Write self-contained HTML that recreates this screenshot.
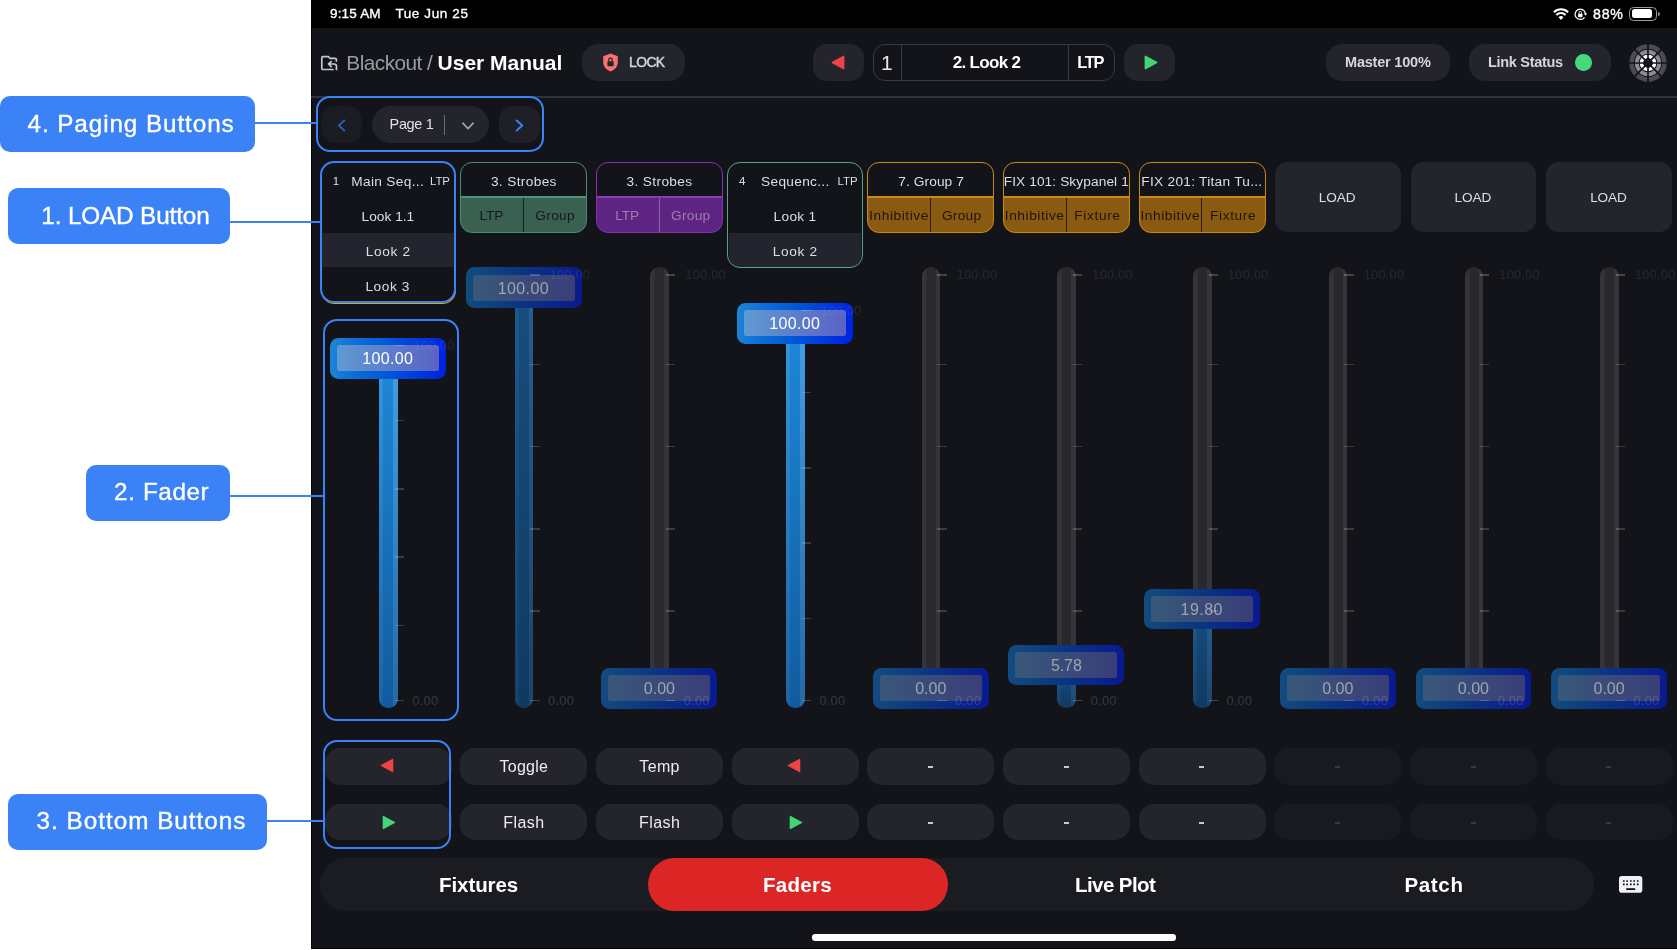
<!DOCTYPE html>
<html lang="en">
<head>
<meta charset="utf-8">
<title>Blackout - Faders (User Manual)</title>
<style>
html,body{margin:0;padding:0;background:#fff}
body{width:1677px;height:950px;position:relative;overflow:hidden;font-family:"Liberation Sans", sans-serif;-webkit-font-smoothing:antialiased}
body div,body span,body svg{position:absolute;display:block}
span{white-space:pre}
#stage{left:0;top:0;width:1677px;height:950px;will-change:transform}
</style>
</head>
<body>
<div id="stage">
<div style="left:311.0px;top:0.0px;width:1366.0px;height:948.5px;background:#13141a;border-left:1px solid #050507;border-bottom:1px solid #050507;box-sizing:border-box"></div>
<div style="left:311.0px;top:0.0px;width:1366.0px;height:27.5px;background:#000"></div>
<span style="left:330.00px;top:5.32px;font-size:13.5px;line-height:18px;color:#fff;letter-spacing:0.18px;-webkit-text-stroke:0.35px currentColor;">9:15 AM</span>
<span style="left:395.40px;top:5.32px;font-size:13.5px;line-height:18px;color:#fff;letter-spacing:0.61px;-webkit-text-stroke:0.35px currentColor;">Tue Jun 25</span>
<span style="left:1593.00px;top:5.28px;font-size:14.2px;line-height:18px;color:#fff;letter-spacing:0.76px;-webkit-text-stroke:0.35px currentColor;">88%</span>
<svg style="left:1552.6px;top:7.7px" width="16" height="12.4" viewBox="0 0 16 12.4"><path d="M8 12 L5.5 9.2 A3.5 3.5 0 0 1 10.5 9.2 Z" fill="#fff"/><path d="M3.4 6.9 A6.5 6.5 0 0 1 12.6 6.9" fill="none" stroke="#fff" stroke-width="2.1"/><path d="M0.9 4.2 A10.1 10.1 0 0 1 15.1 4.2" fill="none" stroke="#fff" stroke-width="2.1"/></svg>
<svg style="left:1574px;top:7.9px" width="14" height="13" viewBox="0 0 14 13"><path d="M10.56 9.28 A5.2 5.2 0 1 1 11.39 5.22" fill="none" stroke="#fff" stroke-width="1.25"/><path d="M9.7 5.3 H13.2 L11.45 7.7 Z" fill="#fff"/><rect x="4.1" y="5.7" width="4.4" height="3.6" rx="0.7" fill="#fff"/><path d="M5 5.9 V4.7 A1.3 1.3 0 0 1 7.6 4.7 V5.9" fill="none" stroke="#fff" stroke-width="0.9"/></svg>
<div style="left:1629.4px;top:7.2px;width:27.6px;height:13.5px;border:1.3px solid #9c9ca1;border-radius:4.5px;box-sizing:border-box"></div>
<div style="left:1631.6px;top:9.3px;width:20.7px;height:9.2px;background:#fff;border-radius:2.5px"></div>
<div style="left:1658.0px;top:11.6px;width:1.8px;height:4.6px;background:#8e8e93;border-radius:0 2px 2px 0"></div>
<div style="left:311.0px;top:96.2px;width:1366.0px;height:1.5px;background:#30323c"></div>
<svg style="left:320px;top:54.5px" width="19" height="17" viewBox="0 0 19 17"><path d="M16.4 6.7 V4.4 A1.1 1.1 0 0 0 15.3 3.3 H9.9 L8.4 1.6 H2.9 A1.1 1.1 0 0 0 1.8 2.7 V13.4 A1.1 1.1 0 0 0 2.9 14.5 H13.6" fill="none" stroke="#c6c6d2" stroke-width="1.7" stroke-linejoin="round" stroke-linecap="butt"/><path d="M11.7 6.2 L8.5 9 L11.7 12.2 M8.8 9 H14.2 A2.3 2.3 0 0 1 16.45 11.3 V15.2" fill="none" stroke="#c6c6d2" stroke-width="1.7" stroke-linejoin="round" stroke-linecap="butt"/></svg>
<span style="left:346.30px;top:49.39px;font-size:20.8px;line-height:27px;color:#9b9ca1;letter-spacing:-0.53px;">Blackout /</span>
<span style="left:437.60px;top:49.32px;font-size:21px;line-height:27px;color:#fff;font-weight:700;letter-spacing:-0.01px;">User Manual</span>
<div style="left:581.8px;top:44.2px;width:103.7px;height:36.8px;background:#23242c;border-radius:16px"></div>
<svg style="left:602px;top:53.4px" width="17" height="19" viewBox="0 0 17 19"><path d="M8.5 0.6 L15.8 3.2 V9.2 C15.8 13.6 12.6 16.8 8.5 18.4 C4.4 16.8 1.2 13.6 1.2 9.2 V3.2 Z" fill="#f87171"/><rect x="5.4" y="8.2" width="6.2" height="5" rx="1" fill="#23242c"/><path d="M6.7 8.4 V6.9 A1.8 1.8 0 0 1 10.3 6.9 V8.4" fill="none" stroke="#23242c" stroke-width="1.2"/></svg>
<span style="left:629.10px;top:53.48px;font-size:13.9px;line-height:18px;color:#d4d4e0;letter-spacing:-0.62px;-webkit-text-stroke:0.45px currentColor;">LOCK</span>
<div style="left:813.1px;top:44.2px;width:50.6px;height:36.8px;background:#23242c;border-radius:14px"></div>
<svg style="left:830.5px;top:55px" width="14" height="15" viewBox="0 0 14 15"><path d="M12.6 1.4 V13.6 L1.4 7.5 Z" fill="#ef4444" stroke="#ef4444" stroke-width="1.6" stroke-linejoin="round"/></svg>
<div style="left:873.2px;top:44.2px;width:241.6px;height:36.4px;border:1px solid #3a3b42;border-radius:12px;box-sizing:border-box"></div>
<div style="left:901.0px;top:44.7px;width:1.0px;height:35.4px;background:#3a3b42"></div>
<div style="left:1067.8px;top:44.7px;width:1.0px;height:35.4px;background:#3a3b42"></div>
<span style="left:881.10px;top:48.82px;font-size:21px;line-height:27px;color:#e8e8ec;">1</span>
<span style="left:952.70px;top:51.61px;font-size:17px;line-height:22px;color:#fff;font-weight:700;letter-spacing:-0.67px;">2. Look 2</span>
<span style="left:1077.30px;top:52.32px;font-size:16.4px;line-height:21px;color:#fff;font-weight:700;letter-spacing:-1.25px;">LTP</span>
<div style="left:1124.4px;top:44.2px;width:50.6px;height:36.8px;background:#23242c;border-radius:14px"></div>
<svg style="left:1144px;top:55px" width="14" height="15" viewBox="0 0 14 15"><path d="M1.4 1.4 V13.6 L12.6 7.5 Z" fill="#42d674" stroke="#42d674" stroke-width="1.6" stroke-linejoin="round"/></svg>
<div style="left:1326.3px;top:44.2px;width:123.9px;height:36.8px;background:#23242c;border-radius:16px"></div>
<span style="left:1345.00px;top:52.88px;font-size:14.5px;line-height:19px;color:#d6d6da;font-weight:700;letter-spacing:-0.20px;">Master 100%</span>
<div style="left:1469.3px;top:44.2px;width:142.1px;height:36.8px;background:#23242c;border-radius:16px"></div>
<span style="left:1488.00px;top:52.88px;font-size:14.5px;line-height:19px;color:#d6d6da;font-weight:700;letter-spacing:-0.31px;">Link Status</span>
<div style="left:1575.0px;top:54.2px;width:16.6px;height:16.6px;background:#46d97c;border-radius:50%"></div>
<svg style="left:1629.4px;top:43.5px" width="38" height="38" viewBox="-19 -19 38 38"><circle r="16.45" fill="none" stroke="#4b4b54" stroke-width="4.5"/><circle r="11.25" fill="none" stroke="#8b8b92" stroke-width="3.9"/><circle r="6.5" fill="none" stroke="#ffffff" stroke-width="3.6"/><line x1="-19.50" y1="-0.00" x2="19.50" y2="0.00" stroke="#13141a" stroke-width="1.7"/><line x1="-13.79" y1="-13.79" x2="13.79" y2="13.79" stroke="#13141a" stroke-width="1.7"/><line x1="-0.00" y1="-19.50" x2="0.00" y2="19.50" stroke="#13141a" stroke-width="1.7"/><line x1="13.79" y1="-13.79" x2="-13.79" y2="13.79" stroke="#13141a" stroke-width="1.7"/><circle r="4.7" fill="#13141a"/></svg>
<div style="left:320.5px;top:106.3px;width:41.5px;height:37.0px;background:#1b1c22;border-radius:14px"></div>
<svg style="left:335.5px;top:118.5px" width="11" height="13" viewBox="0 0 11 13"><path d="M8.3 1.5 L2.8 6.5 L8.3 11.5" fill="none" stroke="#2a5cb4" stroke-width="1.9" stroke-linecap="round" stroke-linejoin="round"/></svg>
<div style="left:371.7px;top:106.3px;width:117.0px;height:37.0px;background:#23242c;border-radius:18.5px"></div>
<span style="left:389.60px;top:115.38px;font-size:14.5px;line-height:19px;color:#e2e2e6;letter-spacing:-0.36px;">Page 1</span>
<div style="left:443.7px;top:114.7px;width:1.1px;height:20.6px;background:#6c6d74"></div>
<svg style="left:461px;top:120.5px" width="14" height="10" viewBox="0 0 14 10"><path d="M1.8 2.2 L7 7.6 L12.2 2.2" fill="none" stroke="#a2a3a8" stroke-width="1.7" stroke-linecap="round" stroke-linejoin="round"/></svg>
<div style="left:498.8px;top:106.3px;width:41.2px;height:37.0px;background:#1f2026;border-radius:14px"></div>
<svg style="left:514px;top:118.5px" width="11" height="13" viewBox="0 0 11 13"><path d="M2.7 1.5 L8.2 6.5 L2.7 11.5" fill="none" stroke="#3b82f6" stroke-width="2" stroke-linecap="round" stroke-linejoin="round"/></svg>
<div style="left:321.7px;top:232.8px;width:132.6px;height:34.3px;background:#23242d"></div>
<span style="left:332.65px;top:173.82px;font-size:11.5px;line-height:15px;color:#dedee6;">1</span>
<span style="left:351.20px;top:172.75px;font-size:13.7px;line-height:18px;color:#dedee6;letter-spacing:0.34px;">Main Seq...</span>
<span style="left:430.00px;top:174.15px;font-size:11.4px;line-height:15px;color:#dedee6;letter-spacing:-0.07px;">LTP</span>
<span style="left:361.60px;top:207.95px;font-size:13.7px;line-height:18px;color:#dedee6;letter-spacing:0.01px;">Look 1.1</span>
<span style="left:365.65px;top:242.95px;font-size:13.7px;line-height:18px;color:#dedee6;letter-spacing:0.68px;">Look 2</span>
<span style="left:365.40px;top:277.95px;font-size:13.7px;line-height:18px;color:#dedee6;letter-spacing:0.58px;">Look 3</span>
<div style="left:320.5px;top:284.0px;width:135.0px;height:20.1px;border:1.5px solid #d4aa10;border-top:0;border-radius:0 0 13.5px 13.5px;box-sizing:border-box"></div>
<div style="left:320.0px;top:161.0px;width:135.9px;height:142.4px;border:2px solid #3b82f6;border-radius:14px;box-sizing:border-box"></div>
<div style="left:728.7px;top:232.8px;width:132.6px;height:35.2px;background:#23242d;border-radius:0 0 12px 12px"></div>
<span style="left:738.91px;top:173.82px;font-size:11.5px;line-height:15px;color:#dedee6;">4</span>
<span style="left:761.11px;top:172.75px;font-size:13.7px;line-height:18px;color:#dedee6;letter-spacing:0.30px;">Sequenc...</span>
<span style="left:837.41px;top:174.15px;font-size:11.4px;line-height:15px;color:#dedee6;letter-spacing:0.08px;">LTP</span>
<span style="left:773.61px;top:207.95px;font-size:13.7px;line-height:18px;color:#dedee6;letter-spacing:0.30px;">Look 1</span>
<span style="left:772.66px;top:242.95px;font-size:13.7px;line-height:18px;color:#dedee6;letter-spacing:0.68px;">Look 2</span>
<div style="left:727.3px;top:162.2px;width:135.8px;height:105.9px;border:1.6px solid #54a58a;border-radius:13px;box-sizing:border-box"></div>
<div style="left:460.2px;top:162.3px;width:127.2px;height:70.6px;border:1.2px solid #4a8c74;border-radius:12px;box-sizing:border-box;background:linear-gradient(#13141a 0,#13141a 33.4px,#4f9379 33.4px,#4f9379 34.6px,#396050 34.6px);overflow:hidden"><div style="left:61.9px;top:34.6px;width:1px;height:36px;background:#15211c"></div></div>
<span style="left:490.92px;top:172.75px;font-size:13.7px;line-height:18px;color:#dedee6;letter-spacing:0.35px;">3. Strobes</span>
<span style="left:479.47px;top:206.95px;font-size:13.7px;line-height:18px;color:#131a1a;letter-spacing:-0.08px;">LTP</span>
<span style="left:535.37px;top:206.95px;font-size:13.7px;line-height:18px;color:#131a1a;letter-spacing:0.29px;">Group</span>
<div style="left:595.8px;top:162.3px;width:127.2px;height:70.6px;border:1.2px solid #8530b4;border-radius:12px;box-sizing:border-box;background:linear-gradient(#13141a 0,#13141a 33.4px,#8a3cb6 33.4px,#8a3cb6 34.6px,#5e2481 34.6px);overflow:hidden"><div style="left:61.9px;top:34.6px;width:1px;height:36px;background:#8c62a8"></div></div>
<span style="left:626.59px;top:172.75px;font-size:13.7px;line-height:18px;color:#dedee6;letter-spacing:0.35px;">3. Strobes</span>
<span style="left:615.14px;top:206.95px;font-size:13.7px;line-height:18px;color:#9c7eb4;letter-spacing:-0.08px;">LTP</span>
<span style="left:671.04px;top:206.95px;font-size:13.7px;line-height:18px;color:#9c7eb4;letter-spacing:0.29px;">Group</span>
<div style="left:867.2px;top:162.3px;width:127.2px;height:70.6px;border:1.2px solid #c98a12;border-radius:12px;box-sizing:border-box;background:linear-gradient(#13141a 0,#13141a 33.4px,#c98a12 33.4px,#c98a12 34.6px,#8a5a12 34.6px);overflow:hidden"><div style="left:61.9px;top:34.6px;width:1px;height:36px;background:#2a1c06"></div></div>
<span style="left:898.28px;top:172.75px;font-size:13.7px;line-height:18px;color:#dedee6;letter-spacing:0.10px;">7. Group 7</span>
<span style="left:869.23px;top:206.95px;font-size:13.7px;line-height:18px;color:#1f1505;letter-spacing:0.57px;">Inhibitive</span>
<span style="left:941.88px;top:206.95px;font-size:13.7px;line-height:18px;color:#1f1505;letter-spacing:0.29px;">Group</span>
<div style="left:1002.8px;top:162.3px;width:127.2px;height:70.6px;border:1.2px solid #c98a12;border-radius:12px;box-sizing:border-box;background:linear-gradient(#13141a 0,#13141a 33.4px,#c98a12 33.4px,#c98a12 34.6px,#8a5a12 34.6px);overflow:hidden"><div style="left:61.9px;top:34.6px;width:1px;height:36px;background:#2a1c06"></div></div>
<span style="left:1003.70px;top:172.75px;font-size:13.7px;line-height:18px;color:#dedee6;letter-spacing:0.10px;">FIX 101: Skypanel 1</span>
<span style="left:1004.80px;top:206.95px;font-size:13.7px;line-height:18px;color:#1f1505;letter-spacing:0.57px;">Inhibitive</span>
<span style="left:1074.35px;top:206.95px;font-size:13.7px;line-height:18px;color:#1f1505;letter-spacing:0.63px;">Fixture</span>
<div style="left:1138.5px;top:162.3px;width:127.2px;height:70.6px;border:1.2px solid #c98a12;border-radius:12px;box-sizing:border-box;background:linear-gradient(#13141a 0,#13141a 33.4px,#c98a12 33.4px,#c98a12 34.6px,#8a5a12 34.6px);overflow:hidden"><div style="left:61.9px;top:34.6px;width:1px;height:36px;background:#2a1c06"></div></div>
<span style="left:1141.37px;top:172.75px;font-size:13.7px;line-height:18px;color:#dedee6;letter-spacing:0.27px;">FIX 201: Titan Tu...</span>
<span style="left:1140.47px;top:206.95px;font-size:13.7px;line-height:18px;color:#1f1505;letter-spacing:0.57px;">Inhibitive</span>
<span style="left:1210.02px;top:206.95px;font-size:13.7px;line-height:18px;color:#1f1505;letter-spacing:0.63px;">Fixture</span>
<div style="left:1274.9px;top:162.4px;width:125.8px;height:69.9px;background:#23242c;border-radius:12.5px"></div>
<span style="left:1318.79px;top:189.29px;font-size:13.6px;line-height:18px;color:#dedee6;letter-spacing:-0.07px;">LOAD</span>
<div style="left:1410.6px;top:162.4px;width:125.8px;height:69.9px;background:#23242c;border-radius:12.5px"></div>
<span style="left:1454.46px;top:189.29px;font-size:13.6px;line-height:18px;color:#dedee6;letter-spacing:-0.07px;">LOAD</span>
<div style="left:1546.2px;top:162.4px;width:125.8px;height:69.9px;background:#23242c;border-radius:12.5px"></div>
<span style="left:1590.13px;top:189.29px;font-size:13.6px;line-height:18px;color:#dedee6;letter-spacing:-0.07px;">LOAD</span>
<div style="left:379.1px;top:339.0px;width:18.6px;height:369.2px;background:linear-gradient(90deg,#34343a 0,#34343a 4.4px,#29292d 4.6px,#29292d 13.8px,#34343a 14px,#34343a 100%);border-radius:9.2px"></div>
<div style="left:379.1px;top:358.0px;width:18.6px;height:350.2px;background:linear-gradient(rgba(0,30,80,0) 0,rgba(0,30,80,0.42) 100%),linear-gradient(90deg,#3497e1 0,#3497e1 3.2px,#1e88d8 4.4px,#1e88d8 13.6px,#429fe4 14.2px,#429fe4 100%);border-radius:0 0 9.3px 9.3px"></div>
<div style="left:330.1px;top:337.8px;width:115.9px;height:40.8px;background:linear-gradient(95deg,#1c86d8 0,#0a6cd8 25%,#0056d9 50%,#0020e0 100%);border-radius:8.5px"></div>
<div style="left:337.1px;top:345.0px;width:102.0px;height:26.4px;background:linear-gradient(90deg,#5f9ad2 0,#5a62c4 100%);border-radius:2.5px"></div>
<span style="left:362.20px;top:348.06px;font-size:16px;line-height:21px;color:#fff;letter-spacing:0.35px;">100.00</span>
<div style="left:394.7px;top:344.6px;width:9.2px;height:1.6px;background:rgba(255,255,255,0.2)"></div>
<div style="left:394.7px;top:419.8px;width:9.2px;height:1.6px;background:rgba(255,255,255,0.17)"></div>
<div style="left:394.7px;top:488.0px;width:9.2px;height:1.6px;background:rgba(255,255,255,0.17)"></div>
<div style="left:394.7px;top:556.3px;width:9.2px;height:1.6px;background:rgba(255,255,255,0.17)"></div>
<div style="left:394.7px;top:624.5px;width:9.2px;height:1.6px;background:rgba(255,255,255,0.17)"></div>
<div style="left:394.7px;top:699.7px;width:9.2px;height:1.6px;background:rgba(255,255,255,0.2)"></div>
<span style="left:414.00px;top:337.63px;font-size:12.6px;line-height:16px;color:rgba(255,255,255,0.085);letter-spacing:0.34px;">100.00</span>
<span style="left:412.40px;top:692.06px;font-size:12.8px;line-height:17px;color:rgba(255,255,255,0.15);letter-spacing:0.27px;">0.00</span>
<div style="left:514.8px;top:268.6px;width:18.6px;height:439.6px;background:linear-gradient(90deg,#34343a 0,#34343a 4.4px,#29292d 4.6px,#29292d 13.8px,#34343a 14px,#34343a 100%);border-radius:9.2px"></div>
<div style="left:514.8px;top:287.6px;width:18.6px;height:420.6px;background:linear-gradient(rgba(0,10,30,0) 0,rgba(0,10,30,0.3) 100%),linear-gradient(90deg,#1f5a8b 0,#1f5a8b 3.2px,#174e7f 4.4px,#174e7f 13.6px,#285f8e 14.2px,#285f8e 100%);border-radius:0 0 9.3px 9.3px"></div>
<div style="left:465.8px;top:267.4px;width:115.9px;height:40.8px;background:linear-gradient(95deg,#134c7e 0,#0b3c80 35%,#0a2e86 60%,#0a1890 100%);border-radius:8.5px"></div>
<div style="left:472.8px;top:274.6px;width:102.0px;height:26.4px;background:linear-gradient(90deg,#38587a 0,#3a3e78 100%);border-radius:2.5px"></div>
<span style="left:497.87px;top:277.66px;font-size:16px;line-height:21px;color:#a2a3aa;letter-spacing:0.35px;">100.00</span>
<div style="left:530.4px;top:274.2px;width:9.2px;height:1.6px;background:rgba(255,255,255,0.2)"></div>
<div style="left:530.4px;top:363.5px;width:9.2px;height:1.6px;background:rgba(255,255,255,0.17)"></div>
<div style="left:530.4px;top:445.8px;width:9.2px;height:1.6px;background:rgba(255,255,255,0.17)"></div>
<div style="left:530.4px;top:528.1px;width:9.2px;height:1.6px;background:rgba(255,255,255,0.17)"></div>
<div style="left:530.4px;top:610.4px;width:9.2px;height:1.6px;background:rgba(255,255,255,0.17)"></div>
<div style="left:530.4px;top:699.7px;width:9.2px;height:1.6px;background:rgba(255,255,255,0.2)"></div>
<span style="left:549.67px;top:267.23px;font-size:12.6px;line-height:16px;color:rgba(255,255,255,0.085);letter-spacing:0.34px;">100.00</span>
<span style="left:548.07px;top:692.06px;font-size:12.8px;line-height:17px;color:rgba(255,255,255,0.15);letter-spacing:0.27px;">0.00</span>
<div style="left:650.4px;top:267.2px;width:18.6px;height:441.0px;background:linear-gradient(90deg,#34343a 0,#34343a 4.4px,#29292d 4.6px,#29292d 13.8px,#34343a 14px,#34343a 100%);border-radius:9.2px"></div>
<div style="left:601.4px;top:667.8px;width:115.9px;height:40.8px;background:linear-gradient(95deg,#134c7e 0,#0b3c80 35%,#0a2e86 60%,#0a1890 100%);border-radius:8.5px"></div>
<div style="left:608.4px;top:675.0px;width:102.0px;height:26.4px;background:linear-gradient(90deg,#38587a 0,#3a3e78 100%);border-radius:2.5px"></div>
<span style="left:643.79px;top:678.06px;font-size:16px;line-height:21px;color:#a2a3aa;letter-spacing:0.02px;">0.00</span>
<div style="left:666.0px;top:274.2px;width:9.2px;height:1.6px;background:rgba(255,255,255,0.2)"></div>
<div style="left:666.0px;top:363.5px;width:9.2px;height:1.6px;background:rgba(255,255,255,0.17)"></div>
<div style="left:666.0px;top:445.8px;width:9.2px;height:1.6px;background:rgba(255,255,255,0.17)"></div>
<div style="left:666.0px;top:528.1px;width:9.2px;height:1.6px;background:rgba(255,255,255,0.17)"></div>
<div style="left:666.0px;top:610.4px;width:9.2px;height:1.6px;background:rgba(255,255,255,0.17)"></div>
<div style="left:666.0px;top:699.7px;width:9.2px;height:1.6px;background:rgba(255,255,255,0.2)"></div>
<span style="left:685.34px;top:267.23px;font-size:12.6px;line-height:16px;color:rgba(255,255,255,0.085);letter-spacing:0.34px;">100.00</span>
<span style="left:683.74px;top:692.06px;font-size:12.8px;line-height:17px;color:rgba(255,255,255,0.15);letter-spacing:0.27px;">0.00</span>
<div style="left:786.1px;top:304.0px;width:18.6px;height:404.2px;background:linear-gradient(90deg,#34343a 0,#34343a 4.4px,#29292d 4.6px,#29292d 13.8px,#34343a 14px,#34343a 100%);border-radius:9.2px"></div>
<div style="left:786.1px;top:323.0px;width:18.6px;height:385.2px;background:linear-gradient(rgba(0,30,80,0) 0,rgba(0,30,80,0.42) 100%),linear-gradient(90deg,#3497e1 0,#3497e1 3.2px,#1e88d8 4.4px,#1e88d8 13.6px,#429fe4 14.2px,#429fe4 100%);border-radius:0 0 9.3px 9.3px"></div>
<div style="left:737.1px;top:302.8px;width:115.9px;height:40.8px;background:linear-gradient(95deg,#1c86d8 0,#0a6cd8 25%,#0056d9 50%,#0020e0 100%);border-radius:8.5px"></div>
<div style="left:744.1px;top:310.0px;width:102.0px;height:26.4px;background:linear-gradient(90deg,#5f9ad2 0,#5a62c4 100%);border-radius:2.5px"></div>
<span style="left:769.21px;top:313.06px;font-size:16px;line-height:21px;color:#fff;letter-spacing:0.35px;">100.00</span>
<div style="left:801.7px;top:309.6px;width:9.2px;height:1.6px;background:rgba(255,255,255,0.2)"></div>
<div style="left:801.7px;top:391.8px;width:9.2px;height:1.6px;background:rgba(255,255,255,0.17)"></div>
<div style="left:801.7px;top:467.0px;width:9.2px;height:1.6px;background:rgba(255,255,255,0.17)"></div>
<div style="left:801.7px;top:542.3px;width:9.2px;height:1.6px;background:rgba(255,255,255,0.17)"></div>
<div style="left:801.7px;top:617.5px;width:9.2px;height:1.6px;background:rgba(255,255,255,0.17)"></div>
<div style="left:801.7px;top:699.7px;width:9.2px;height:1.6px;background:rgba(255,255,255,0.2)"></div>
<span style="left:821.01px;top:302.63px;font-size:12.6px;line-height:16px;color:rgba(255,255,255,0.085);letter-spacing:0.34px;">100.00</span>
<span style="left:819.41px;top:692.06px;font-size:12.8px;line-height:17px;color:rgba(255,255,255,0.15);letter-spacing:0.27px;">0.00</span>
<div style="left:921.8px;top:267.2px;width:18.6px;height:441.0px;background:linear-gradient(90deg,#34343a 0,#34343a 4.4px,#29292d 4.6px,#29292d 13.8px,#34343a 14px,#34343a 100%);border-radius:9.2px"></div>
<div style="left:872.8px;top:667.8px;width:115.9px;height:40.8px;background:linear-gradient(95deg,#134c7e 0,#0b3c80 35%,#0a2e86 60%,#0a1890 100%);border-radius:8.5px"></div>
<div style="left:879.8px;top:675.0px;width:102.0px;height:26.4px;background:linear-gradient(90deg,#38587a 0,#3a3e78 100%);border-radius:2.5px"></div>
<span style="left:915.13px;top:678.06px;font-size:16px;line-height:21px;color:#a2a3aa;letter-spacing:0.02px;">0.00</span>
<div style="left:937.4px;top:274.2px;width:9.2px;height:1.6px;background:rgba(255,255,255,0.2)"></div>
<div style="left:937.4px;top:363.5px;width:9.2px;height:1.6px;background:rgba(255,255,255,0.17)"></div>
<div style="left:937.4px;top:445.8px;width:9.2px;height:1.6px;background:rgba(255,255,255,0.17)"></div>
<div style="left:937.4px;top:528.1px;width:9.2px;height:1.6px;background:rgba(255,255,255,0.17)"></div>
<div style="left:937.4px;top:610.4px;width:9.2px;height:1.6px;background:rgba(255,255,255,0.17)"></div>
<div style="left:937.4px;top:699.7px;width:9.2px;height:1.6px;background:rgba(255,255,255,0.2)"></div>
<span style="left:956.68px;top:267.23px;font-size:12.6px;line-height:16px;color:rgba(255,255,255,0.085);letter-spacing:0.34px;">100.00</span>
<span style="left:955.08px;top:692.06px;font-size:12.8px;line-height:17px;color:rgba(255,255,255,0.15);letter-spacing:0.27px;">0.00</span>
<div style="left:1057.4px;top:267.2px;width:18.6px;height:441.0px;background:linear-gradient(90deg,#34343a 0,#34343a 4.4px,#29292d 4.6px,#29292d 13.8px,#34343a 14px,#34343a 100%);border-radius:9.2px"></div>
<div style="left:1057.4px;top:664.9px;width:18.6px;height:43.3px;background:linear-gradient(rgba(0,10,30,0) 0,rgba(0,10,30,0.3) 100%),linear-gradient(90deg,#1f5a8b 0,#1f5a8b 3.2px,#174e7f 4.4px,#174e7f 13.6px,#285f8e 14.2px,#285f8e 100%);border-radius:0 0 9.3px 9.3px"></div>
<div style="left:1008.4px;top:644.7px;width:115.9px;height:40.8px;background:linear-gradient(95deg,#134c7e 0,#0b3c80 35%,#0a2e86 60%,#0a1890 100%);border-radius:8.5px"></div>
<div style="left:1015.4px;top:651.9px;width:102.0px;height:26.4px;background:linear-gradient(90deg,#38587a 0,#3a3e78 100%);border-radius:2.5px"></div>
<span style="left:1050.95px;top:654.91px;font-size:16px;line-height:21px;color:#a2a3aa;letter-spacing:-0.08px;">5.78</span>
<div style="left:1073.0px;top:274.2px;width:9.2px;height:1.6px;background:rgba(255,255,255,0.2)"></div>
<div style="left:1073.0px;top:363.5px;width:9.2px;height:1.6px;background:rgba(255,255,255,0.17)"></div>
<div style="left:1073.0px;top:445.8px;width:9.2px;height:1.6px;background:rgba(255,255,255,0.17)"></div>
<div style="left:1073.0px;top:528.1px;width:9.2px;height:1.6px;background:rgba(255,255,255,0.17)"></div>
<div style="left:1073.0px;top:610.4px;width:9.2px;height:1.6px;background:rgba(255,255,255,0.17)"></div>
<div style="left:1073.0px;top:699.7px;width:9.2px;height:1.6px;background:rgba(255,255,255,0.2)"></div>
<span style="left:1092.35px;top:267.23px;font-size:12.6px;line-height:16px;color:rgba(255,255,255,0.085);letter-spacing:0.34px;">100.00</span>
<span style="left:1090.75px;top:692.06px;font-size:12.8px;line-height:17px;color:rgba(255,255,255,0.15);letter-spacing:0.27px;">0.00</span>
<div style="left:1193.1px;top:267.2px;width:18.6px;height:441.0px;background:linear-gradient(90deg,#34343a 0,#34343a 4.4px,#29292d 4.6px,#29292d 13.8px,#34343a 14px,#34343a 100%);border-radius:9.2px"></div>
<div style="left:1193.1px;top:608.7px;width:18.6px;height:99.5px;background:linear-gradient(rgba(0,10,30,0) 0,rgba(0,10,30,0.3) 100%),linear-gradient(90deg,#1f5a8b 0,#1f5a8b 3.2px,#174e7f 4.4px,#174e7f 13.6px,#285f8e 14.2px,#285f8e 100%);border-radius:0 0 9.3px 9.3px"></div>
<div style="left:1144.1px;top:588.5px;width:115.9px;height:40.8px;background:linear-gradient(95deg,#134c7e 0,#0b3c80 35%,#0a2e86 60%,#0a1890 100%);border-radius:8.5px"></div>
<div style="left:1151.1px;top:595.7px;width:102.0px;height:26.4px;background:linear-gradient(90deg,#38587a 0,#3a3e78 100%);border-radius:2.5px"></div>
<span style="left:1180.62px;top:598.78px;font-size:16px;line-height:21px;color:#a2a3aa;letter-spacing:0.46px;">19.80</span>
<div style="left:1208.7px;top:274.2px;width:9.2px;height:1.6px;background:rgba(255,255,255,0.2)"></div>
<div style="left:1208.7px;top:363.5px;width:9.2px;height:1.6px;background:rgba(255,255,255,0.17)"></div>
<div style="left:1208.7px;top:445.8px;width:9.2px;height:1.6px;background:rgba(255,255,255,0.17)"></div>
<div style="left:1208.7px;top:528.1px;width:9.2px;height:1.6px;background:rgba(255,255,255,0.17)"></div>
<div style="left:1208.7px;top:610.4px;width:9.2px;height:1.6px;background:rgba(255,255,255,0.17)"></div>
<div style="left:1208.7px;top:699.7px;width:9.2px;height:1.6px;background:rgba(255,255,255,0.2)"></div>
<span style="left:1228.02px;top:267.23px;font-size:12.6px;line-height:16px;color:rgba(255,255,255,0.085);letter-spacing:0.34px;">100.00</span>
<span style="left:1226.42px;top:692.06px;font-size:12.8px;line-height:17px;color:rgba(255,255,255,0.15);letter-spacing:0.27px;">0.00</span>
<div style="left:1328.8px;top:267.2px;width:18.6px;height:441.0px;background:linear-gradient(90deg,#34343a 0,#34343a 4.4px,#29292d 4.6px,#29292d 13.8px,#34343a 14px,#34343a 100%);border-radius:9.2px"></div>
<div style="left:1279.8px;top:667.8px;width:115.9px;height:40.8px;background:linear-gradient(95deg,#134c7e 0,#0b3c80 35%,#0a2e86 60%,#0a1890 100%);border-radius:8.5px"></div>
<div style="left:1286.8px;top:675.0px;width:102.0px;height:26.4px;background:linear-gradient(90deg,#38587a 0,#3a3e78 100%);border-radius:2.5px"></div>
<span style="left:1322.14px;top:678.06px;font-size:16px;line-height:21px;color:#a2a3aa;letter-spacing:0.02px;">0.00</span>
<div style="left:1344.4px;top:274.2px;width:9.2px;height:1.6px;background:rgba(255,255,255,0.2)"></div>
<div style="left:1344.4px;top:363.5px;width:9.2px;height:1.6px;background:rgba(255,255,255,0.17)"></div>
<div style="left:1344.4px;top:445.8px;width:9.2px;height:1.6px;background:rgba(255,255,255,0.17)"></div>
<div style="left:1344.4px;top:528.1px;width:9.2px;height:1.6px;background:rgba(255,255,255,0.17)"></div>
<div style="left:1344.4px;top:610.4px;width:9.2px;height:1.6px;background:rgba(255,255,255,0.17)"></div>
<div style="left:1344.4px;top:699.7px;width:9.2px;height:1.6px;background:rgba(255,255,255,0.2)"></div>
<span style="left:1363.69px;top:267.23px;font-size:12.6px;line-height:16px;color:rgba(255,255,255,0.085);letter-spacing:0.34px;">100.00</span>
<span style="left:1362.09px;top:692.06px;font-size:12.8px;line-height:17px;color:rgba(255,255,255,0.15);letter-spacing:0.27px;">0.00</span>
<div style="left:1464.5px;top:267.2px;width:18.6px;height:441.0px;background:linear-gradient(90deg,#34343a 0,#34343a 4.4px,#29292d 4.6px,#29292d 13.8px,#34343a 14px,#34343a 100%);border-radius:9.2px"></div>
<div style="left:1415.5px;top:667.8px;width:115.9px;height:40.8px;background:linear-gradient(95deg,#134c7e 0,#0b3c80 35%,#0a2e86 60%,#0a1890 100%);border-radius:8.5px"></div>
<div style="left:1422.5px;top:675.0px;width:102.0px;height:26.4px;background:linear-gradient(90deg,#38587a 0,#3a3e78 100%);border-radius:2.5px"></div>
<span style="left:1457.81px;top:678.06px;font-size:16px;line-height:21px;color:#a2a3aa;letter-spacing:0.02px;">0.00</span>
<div style="left:1480.1px;top:274.2px;width:9.2px;height:1.6px;background:rgba(255,255,255,0.2)"></div>
<div style="left:1480.1px;top:363.5px;width:9.2px;height:1.6px;background:rgba(255,255,255,0.17)"></div>
<div style="left:1480.1px;top:445.8px;width:9.2px;height:1.6px;background:rgba(255,255,255,0.17)"></div>
<div style="left:1480.1px;top:528.1px;width:9.2px;height:1.6px;background:rgba(255,255,255,0.17)"></div>
<div style="left:1480.1px;top:610.4px;width:9.2px;height:1.6px;background:rgba(255,255,255,0.17)"></div>
<div style="left:1480.1px;top:699.7px;width:9.2px;height:1.6px;background:rgba(255,255,255,0.2)"></div>
<span style="left:1499.36px;top:267.23px;font-size:12.6px;line-height:16px;color:rgba(255,255,255,0.085);letter-spacing:0.34px;">100.00</span>
<span style="left:1497.76px;top:692.06px;font-size:12.8px;line-height:17px;color:rgba(255,255,255,0.15);letter-spacing:0.27px;">0.00</span>
<div style="left:1600.1px;top:267.2px;width:18.6px;height:441.0px;background:linear-gradient(90deg,#34343a 0,#34343a 4.4px,#29292d 4.6px,#29292d 13.8px,#34343a 14px,#34343a 100%);border-radius:9.2px"></div>
<div style="left:1551.1px;top:667.8px;width:115.9px;height:40.8px;background:linear-gradient(95deg,#134c7e 0,#0b3c80 35%,#0a2e86 60%,#0a1890 100%);border-radius:8.5px"></div>
<div style="left:1558.1px;top:675.0px;width:102.0px;height:26.4px;background:linear-gradient(90deg,#38587a 0,#3a3e78 100%);border-radius:2.5px"></div>
<span style="left:1593.48px;top:678.06px;font-size:16px;line-height:21px;color:#a2a3aa;letter-spacing:0.02px;">0.00</span>
<div style="left:1615.7px;top:274.2px;width:9.2px;height:1.6px;background:rgba(255,255,255,0.2)"></div>
<div style="left:1615.7px;top:363.5px;width:9.2px;height:1.6px;background:rgba(255,255,255,0.17)"></div>
<div style="left:1615.7px;top:445.8px;width:9.2px;height:1.6px;background:rgba(255,255,255,0.17)"></div>
<div style="left:1615.7px;top:528.1px;width:9.2px;height:1.6px;background:rgba(255,255,255,0.17)"></div>
<div style="left:1615.7px;top:610.4px;width:9.2px;height:1.6px;background:rgba(255,255,255,0.17)"></div>
<div style="left:1615.7px;top:699.7px;width:9.2px;height:1.6px;background:rgba(255,255,255,0.2)"></div>
<span style="left:1635.03px;top:267.23px;font-size:12.6px;line-height:16px;color:rgba(255,255,255,0.085);letter-spacing:0.34px;">100.00</span>
<span style="left:1633.43px;top:692.06px;font-size:12.8px;line-height:17px;color:rgba(255,255,255,0.15);letter-spacing:0.27px;">0.00</span>
<div style="left:324.5px;top:748.0px;width:127.2px;height:36.6px;background:#23242c;border-radius:15px"></div>
<svg style="left:379.5px;top:758.4px" width="14" height="15" viewBox="0 0 14 15"><path d="M12.6 1.5 V13.5 L1.4 7.5 Z" fill="#ef4444" stroke="#ef4444" stroke-width="1.4" stroke-linejoin="round"/></svg>
<div style="left:324.5px;top:803.6px;width:127.2px;height:36.7px;background:#23242c;border-radius:15px"></div>
<svg style="left:382.0px;top:814.7px" width="14" height="15" viewBox="0 0 14 15"><path d="M1.4 1.5 V13.5 L12.6 7.5 Z" fill="#42d674" stroke="#42d674" stroke-width="1.4" stroke-linejoin="round"/></svg>
<div style="left:460.2px;top:748.0px;width:127.2px;height:36.6px;background:#23242c;border-radius:15px"></div>
<span style="left:499.42px;top:756.26px;font-size:16px;line-height:21px;color:#ececf0;letter-spacing:0.29px;">Toggle</span>
<div style="left:460.2px;top:803.6px;width:127.2px;height:36.7px;background:#23242c;border-radius:15px"></div>
<span style="left:503.27px;top:811.96px;font-size:16px;line-height:21px;color:#ececf0;letter-spacing:0.44px;">Flash</span>
<div style="left:595.8px;top:748.0px;width:127.2px;height:36.6px;background:#23242c;border-radius:15px"></div>
<span style="left:639.29px;top:756.26px;font-size:16px;line-height:21px;color:#ececf0;letter-spacing:0.36px;">Temp</span>
<div style="left:595.8px;top:803.6px;width:127.2px;height:36.7px;background:#23242c;border-radius:15px"></div>
<span style="left:638.94px;top:811.96px;font-size:16px;line-height:21px;color:#ececf0;letter-spacing:0.44px;">Flash</span>
<div style="left:731.5px;top:748.0px;width:127.2px;height:36.6px;background:#23242c;border-radius:15px"></div>
<svg style="left:786.5px;top:758.4px" width="14" height="15" viewBox="0 0 14 15"><path d="M12.6 1.5 V13.5 L1.4 7.5 Z" fill="#ef4444" stroke="#ef4444" stroke-width="1.4" stroke-linejoin="round"/></svg>
<div style="left:731.5px;top:803.6px;width:127.2px;height:36.7px;background:#23242c;border-radius:15px"></div>
<svg style="left:789.0px;top:814.7px" width="14" height="15" viewBox="0 0 14 15"><path d="M1.4 1.5 V13.5 L12.6 7.5 Z" fill="#42d674" stroke="#42d674" stroke-width="1.4" stroke-linejoin="round"/></svg>
<div style="left:867.2px;top:748.0px;width:127.2px;height:36.6px;background:#23242c;border-radius:15px"></div>
<div style="left:928.0px;top:766.0px;width:5.0px;height:2.0px;background:#c9c9d2"></div>
<div style="left:867.2px;top:803.6px;width:127.2px;height:36.7px;background:#23242c;border-radius:15px"></div>
<div style="left:928.0px;top:822.0px;width:5.0px;height:2.0px;background:#c9c9d2"></div>
<div style="left:1002.8px;top:748.0px;width:127.2px;height:36.6px;background:#23242c;border-radius:15px"></div>
<div style="left:1064.0px;top:766.0px;width:5.0px;height:2.0px;background:#c9c9d2"></div>
<div style="left:1002.8px;top:803.6px;width:127.2px;height:36.7px;background:#23242c;border-radius:15px"></div>
<div style="left:1064.0px;top:822.0px;width:5.0px;height:2.0px;background:#c9c9d2"></div>
<div style="left:1138.5px;top:748.0px;width:127.2px;height:36.6px;background:#23242c;border-radius:15px"></div>
<div style="left:1199.0px;top:766.0px;width:5.0px;height:2.0px;background:#c9c9d2"></div>
<div style="left:1138.5px;top:803.6px;width:127.2px;height:36.7px;background:#23242c;border-radius:15px"></div>
<div style="left:1199.0px;top:822.0px;width:5.0px;height:2.0px;background:#c9c9d2"></div>
<div style="left:1274.2px;top:748.0px;width:127.2px;height:36.6px;background:#191a1f;border-radius:15px"></div>
<div style="left:1335.0px;top:766.0px;width:5.0px;height:2.0px;background:#37383f"></div>
<div style="left:1274.2px;top:803.6px;width:127.2px;height:36.7px;background:#191a1f;border-radius:15px"></div>
<div style="left:1335.0px;top:822.0px;width:5.0px;height:2.0px;background:#37383f"></div>
<div style="left:1409.9px;top:748.0px;width:127.2px;height:36.6px;background:#191a1f;border-radius:15px"></div>
<div style="left:1471.0px;top:766.0px;width:5.0px;height:2.0px;background:#37383f"></div>
<div style="left:1409.9px;top:803.6px;width:127.2px;height:36.7px;background:#191a1f;border-radius:15px"></div>
<div style="left:1471.0px;top:822.0px;width:5.0px;height:2.0px;background:#37383f"></div>
<div style="left:1545.5px;top:748.0px;width:127.2px;height:36.6px;background:#191a1f;border-radius:15px"></div>
<div style="left:1606.0px;top:766.0px;width:5.0px;height:2.0px;background:#37383f"></div>
<div style="left:1545.5px;top:803.6px;width:127.2px;height:36.7px;background:#191a1f;border-radius:15px"></div>
<div style="left:1606.0px;top:822.0px;width:5.0px;height:2.0px;background:#37383f"></div>
<div style="left:320.0px;top:858.0px;width:1273.6px;height:52.7px;background:#1b1c21;border-radius:26.4px"></div>
<div style="left:647.6px;top:858.0px;width:300.1px;height:52.7px;background:#dc2626;border-radius:26.4px"></div>
<span style="left:439.00px;top:871.40px;font-size:20.5px;line-height:27px;color:#fff;font-weight:700;letter-spacing:-0.08px;">Fixtures</span>
<span style="left:763.00px;top:871.40px;font-size:20.5px;line-height:27px;color:#fff;font-weight:700;letter-spacing:0.30px;">Faders</span>
<span style="left:1075.00px;top:871.40px;font-size:20.5px;line-height:27px;color:#fff;font-weight:700;letter-spacing:-0.58px;">Live Plot</span>
<span style="left:1404.50px;top:871.40px;font-size:20.5px;line-height:27px;color:#fff;font-weight:700;letter-spacing:0.65px;">Patch</span>
<svg style="left:1619px;top:876px" width="24" height="17" viewBox="0 0 24 17"><rect x="0" y="0" width="23.3" height="16.7" rx="2.8" fill="#f0f0fb"/><rect x="3.95" y="4.15" width="1.7" height="1.7" rx="0.3" fill="#0a0a10"/><rect x="7.25" y="4.15" width="1.7" height="1.7" rx="0.3" fill="#0a0a10"/><rect x="10.95" y="4.15" width="1.7" height="1.7" rx="0.3" fill="#0a0a10"/><rect x="14.25" y="4.15" width="1.7" height="1.7" rx="0.3" fill="#0a0a10"/><rect x="17.85" y="4.15" width="1.7" height="1.7" rx="0.3" fill="#0a0a10"/><rect x="3.95" y="7.55" width="1.7" height="1.7" rx="0.3" fill="#0a0a10"/><rect x="7.25" y="7.55" width="1.7" height="1.7" rx="0.3" fill="#0a0a10"/><rect x="10.95" y="7.55" width="1.7" height="1.7" rx="0.3" fill="#0a0a10"/><rect x="14.25" y="7.55" width="1.7" height="1.7" rx="0.3" fill="#0a0a10"/><rect x="17.85" y="7.55" width="1.7" height="1.7" rx="0.3" fill="#0a0a10"/><rect x="7.2" y="12.2" width="9" height="1.8" rx="0.3" fill="#0a0a10"/></svg>
<div style="left:811.8px;top:934.2px;width:364.0px;height:6.5px;background:#fff;border-radius:3.3px"></div>
<div style="left:0.0px;top:96.1px;width:255.0px;height:55.7px;background:#3b82f6;border-radius:10px"></div>
<span style="left:27.50px;top:107.73px;font-size:24.3px;line-height:32px;color:#fff;letter-spacing:0.90px;-webkit-text-stroke:0.35px #fff;">4. Paging Buttons</span>
<div style="left:254.0px;top:121.7px;width:62.5px;height:2.0px;background:#3b82f6"></div>
<div style="left:7.9px;top:188.0px;width:221.9px;height:55.9px;background:#3b82f6;border-radius:10px"></div>
<span style="left:41.30px;top:199.63px;font-size:24.3px;line-height:32px;color:#fff;letter-spacing:-0.14px;-webkit-text-stroke:0.35px #fff;">1. LOAD Button</span>
<div style="left:228.8px;top:221.3px;width:92.2px;height:2.0px;background:#3b82f6"></div>
<div style="left:86.0px;top:465.0px;width:143.8px;height:55.9px;background:#3b82f6;border-radius:10px"></div>
<span style="left:114.10px;top:476.43px;font-size:24.3px;line-height:32px;color:#fff;letter-spacing:0.59px;-webkit-text-stroke:0.35px #fff;">2. Fader</span>
<div style="left:228.8px;top:495.1px;width:95.2px;height:2.0px;background:#3b82f6"></div>
<div style="left:7.9px;top:794.0px;width:259.1px;height:55.8px;background:#3b82f6;border-radius:10px"></div>
<span style="left:36.60px;top:805.43px;font-size:24.3px;line-height:32px;color:#fff;letter-spacing:0.98px;-webkit-text-stroke:0.35px #fff;">3. Bottom Buttons</span>
<div style="left:266.0px;top:819.9px;width:58.0px;height:2.0px;background:#3b82f6"></div>
<div style="left:315.5px;top:95.8px;width:228.3px;height:55.8px;border:2px solid #3b82f6;border-radius:14px;box-sizing:border-box"></div>
<div style="left:323.1px;top:319.0px;width:136.1px;height:402.0px;border:2px solid #3b82f6;border-radius:14px;box-sizing:border-box"></div>
<div style="left:323.3px;top:740.3px;width:127.4px;height:108.9px;border:2px solid #3b82f6;border-radius:14px;box-sizing:border-box"></div>
</div>
</body>
</html>
